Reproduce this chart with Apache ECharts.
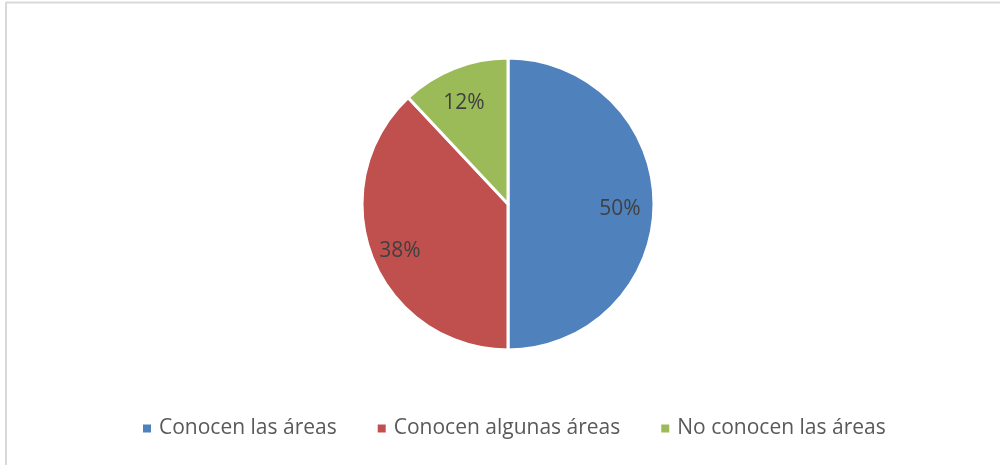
<!DOCTYPE html>
<html>
<head>
<meta charset="utf-8">
<script src="https://cdn.jsdelivr.net/npm/echarts@6/dist/echarts.min.js"></script>
<style>
  html, body { margin: 0; padding: 0; background: #ffffff; }
  #chart { width: 1000px; height: 465px; }
</style>
</head>
<body>
<div id="chart"></div>
<script>
// Survey answers: knowledge of the areas
const categories = ['Conocen las áreas', 'Conocen algunas áreas', 'No conocen las áreas'];
const shares = [50, 38, 12];
const sliceColors = ['#4F81BD', '#C0504D', '#9BBB59'];

const chart = echarts.init(document.getElementById('chart'), null, { renderer: 'canvas' });

const pieCenter = [508, 204];
const pieRadius = 146;

const option = {
  animation: false,
  color: sliceColors,
  legend: {
    data: categories,
    bottom: 21,
    left: 136,
    icon: 'rect',
    itemWidth: 10,
    itemHeight: 10,
    itemGap: 39,
    textStyle: {
      fontFamily: 'Open Sans',
      fontSize: 21,
      color: '#595959',
      padding: [0, 0, 0, 2]
    }
  },
  graphic: [
    { type: 'line', shape: { x1: 6, y1: 2.5, x2: 1000, y2: 2.5 }, style: { stroke: '#d9d9d9', lineWidth: 2 }, silent: true },
    { type: 'line', shape: { x1: 6, y1: 2, x2: 6, y2: 465 }, style: { stroke: '#d9d9d9', lineWidth: 2 }, silent: true }
  ],
  series: [{
    type: 'pie',
    center: pieCenter,
    radius: [0, pieRadius],
    startAngle: 90,
    clockwise: true,
    itemStyle: { borderColor: '#ffffff', borderWidth: 3 },
    label: {
      show: true,
      position: 'inside',
      formatter: '{c}%',
      fontFamily: 'Open Sans',
      fontSize: 21,
      color: '#404040'
    },
    labelLine: { show: false },
    // push the inside labels outward, to about three quarters of the radius,
    // sitting a little below the slice's middle direction
    labelLayout: function (params) {
      const r = params.labelRect;
      const cx = r.x + r.width / 2;
      const cy = r.y + r.height / 2;
      const k = 1.5;
      return {
        x: pieCenter[0] + (cx - pieCenter[0]) * k - 2,
        y: pieCenter[1] + (cy - pieCenter[1]) * k + 5,
        align: 'center',
        verticalAlign: 'middle'
      };
    },
    emphasis: { disabled: true },
    data: categories.map((name, i) => ({ name: name, value: shares[i] }))
  }]
};

chart.setOption(option);
</script>
</body>
</html>
